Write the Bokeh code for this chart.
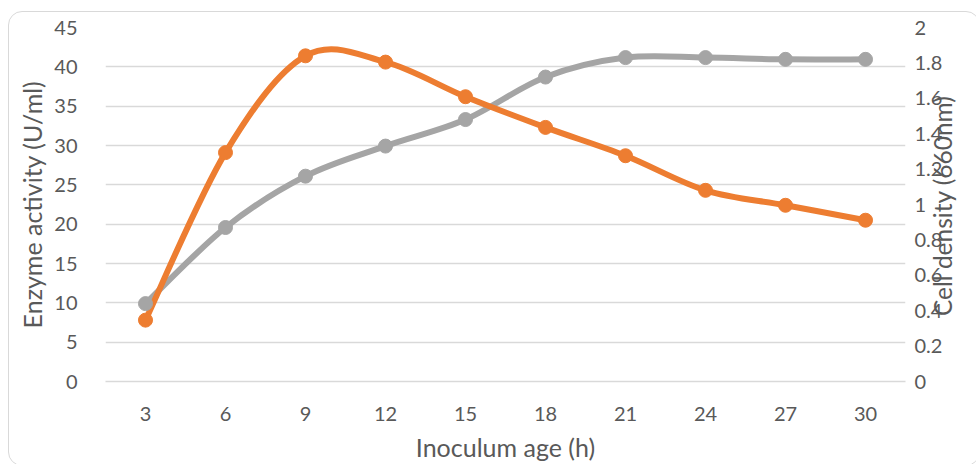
import math
from bokeh.plotting import figure
from bokeh.models import (Range1d, LinearAxis, FixedTicker, NumeralTickFormatter,
                          ColumnDataSource, InlineStyleSheet)
from bokeh.embed import file_html
from bokeh.resources import INLINE

# ---- data ----
hours = [3, 6, 9, 12, 15, 18, 21, 24, 27, 30]
enzyme_activity = [7.8, 29.1, 41.4, 40.6, 36.2, 32.3, 28.7, 24.3, 22.4, 20.5]
cell_density = [0.44, 0.87, 1.16, 1.33, 1.48, 1.72, 1.83, 1.83, 1.82, 1.82]
left_ticks = [0, 5, 10, 15, 20, 25, 30, 35, 40, 45]
right_ticks = [0, 0.2, 0.4, 0.6, 0.8, 1, 1.2, 1.4, 1.6, 1.8, 2]
x_title = "Inoculum age (h)"
left_title = "Enzyme activity (U/ml)"
right_title = "Cell density (660nm)"

ORANGE = "#ED7D31"
GRAY = "#A5A5A5"
TXT = "#595959"
GRID = "#D9D9D9"
FONT = "Lato"
RIGHT_TITLE_START = 0.37   # where the (bottom-to-top) right title starts, right-axis units


def smooth(xs, ys):
    """Catmull-Rom (Excel-like) smoothing as cubic Bezier segments."""
    n = len(xs)
    d = dict(x0=[], y0=[], x1=[], y1=[], cx0=[], cy0=[], cx1=[], cy1=[])
    for i in range(n - 1):
        a = max(i - 1, 0)
        b = min(i + 2, n - 1)
        d["x0"].append(xs[i]); d["y0"].append(ys[i])
        d["x1"].append(xs[i + 1]); d["y1"].append(ys[i + 1])
        d["cx0"].append(xs[i] + (xs[i + 1] - xs[a]) / 6)
        d["cy0"].append(ys[i] + (ys[i + 1] - ys[a]) / 6)
        d["cx1"].append(xs[i + 1] - (xs[b] - xs[i]) / 6)
        d["cy1"].append(ys[i + 1] - (ys[b] - ys[i]) / 6)
    return ColumnDataSource(d)


p = figure(width=976, height=464, output_backend="svg", toolbar_location=None,
           x_range=Range1d(1.5, 31.5), y_range=Range1d(0, 45),
           min_border_left=105, min_border_right=71, min_border_top=27,
           min_border_bottom=81)
p.outline_line_color = None
p.background_fill_color = "white"
p.border_fill_color = "white"

p.extra_y_ranges = {"right": Range1d(0, 2)}

# axes styling
p.xaxis.ticker = FixedTicker(ticks=hours)
p.yaxis.ticker = FixedTicker(ticks=left_ticks)
for ax in [p.xaxis[0], p.yaxis[0]]:
    ax.major_tick_line_color = None
    ax.minor_tick_line_color = None
    ax.major_label_text_font = FONT
    ax.major_label_text_font_size = "20px"
    ax.major_label_text_color = TXT
    ax.axis_label_text_font = FONT
    ax.axis_label_text_font_size = "25px"
    ax.axis_label_text_font_style = "normal"
    ax.axis_label_text_color = TXT
p.yaxis.axis_line_color = None
p.xaxis.axis_line_color = GRID
p.xaxis.axis_line_width = 1.5
p.xaxis.axis_label = x_title
p.yaxis.axis_label = left_title
p.xaxis.major_label_standoff = 19
p.xaxis.axis_label_standoff = 8
p.yaxis.major_label_standoff = 22
p.yaxis.axis_label_standoff = 4


def bare_right_axis(**kw):
    ax = LinearAxis(y_range_name="right", **kw)
    ax.axis_line_color = None
    ax.major_tick_line_color = None
    ax.minor_tick_line_color = None
    ax.major_label_text_font = FONT
    ax.major_label_text_color = TXT
    return ax


right_axis = bare_right_axis(ticker=FixedTicker(ticks=right_ticks),
                             formatter=NumeralTickFormatter(format="0.[0]"))
right_axis.major_label_text_font_size = "20px"
right_axis.major_label_standoff = 3
p.add_layout(right_axis, "right")

# right axis title, reading bottom-to-top (Excel style)
title_axis = bare_right_axis(ticker=FixedTicker(ticks=[RIGHT_TITLE_START]),
                             major_label_overrides={RIGHT_TITLE_START: right_title})
title_axis.major_label_orientation = math.pi / 2
title_axis.major_label_standoff = -9
title_axis.major_label_text_font_size = "24.5px"
p.add_layout(title_axis, "right")

p.xgrid.grid_line_color = None
p.ygrid.grid_line_color = GRID
p.ygrid.grid_line_width = 1.5

# series
src_e = smooth(hours, enzyme_activity)
src_c = smooth(hours, cell_density)
p.bezier("x0", "y0", "x1", "y1", "cx0", "cy0", "cx1", "cy1", source=src_c,
         line_color=GRAY, line_width=6, y_range_name="right")
p.bezier("x0", "y0", "x1", "y1", "cx0", "cy0", "cx1", "cy1", source=src_e,
         line_color=ORANGE, line_width=6)
p.scatter(hours, cell_density, size=14, fill_color=GRAY, line_color=GRAY,
          y_range_name="right")
p.scatter(hours, enzyme_activity, size=14, fill_color=ORANGE, line_color=ORANGE)

# chart-area border (rounded, as in the Excel chart)
p.stylesheets = [InlineStyleSheet(css="""
:host { overflow: hidden; }
:host::after {
  content: ""; position: absolute; left: 8px; top: 11px;
  width: 970px; height: 453px;
  border: 1.2px solid #D9D9D9; border-radius: 14px;
  pointer-events: none; z-index: 10;
}
""")]

open("out.html", "w").write(file_html(p, INLINE))
